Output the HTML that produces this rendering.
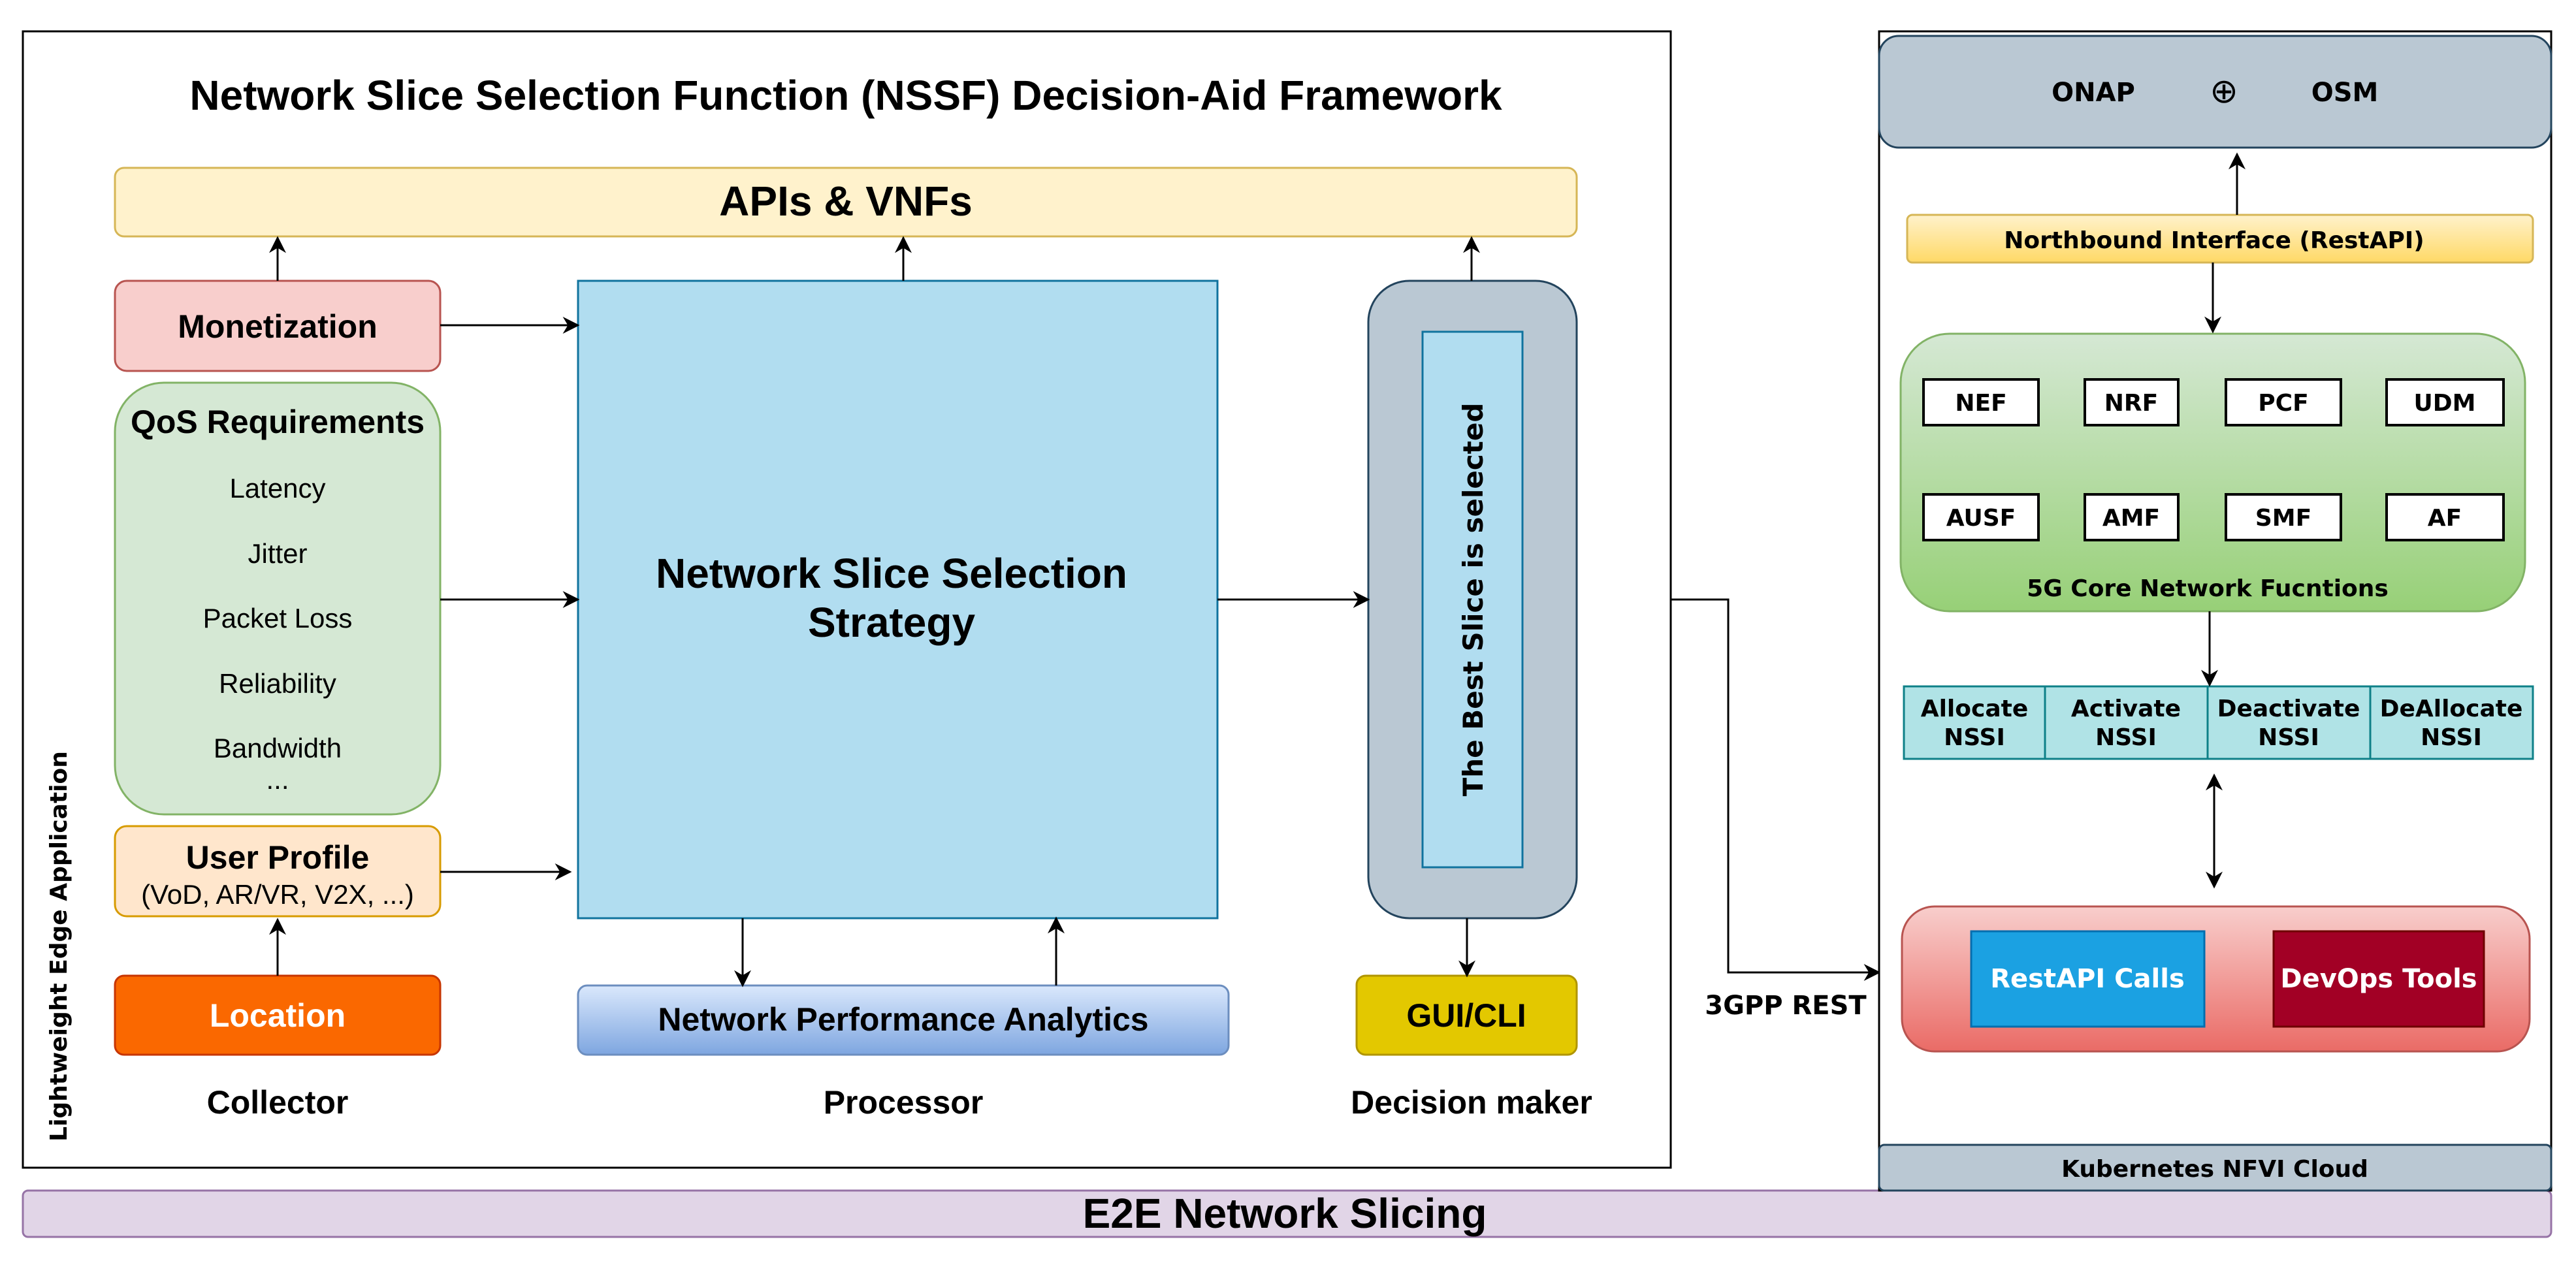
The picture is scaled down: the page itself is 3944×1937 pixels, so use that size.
<!DOCTYPE html>
<html><head><meta charset="utf-8"><style>html,body{margin:0;padding:0;background:#fff}svg{display:block}</style></head>
<body>
<svg width="3944" height="1937" viewBox="0 0 3944 1937" xmlns="http://www.w3.org/2000/svg" font-family="Liberation Sans, sans-serif">
<defs>
<marker id="b" viewBox="0 0 10 10" refX="9" refY="5" markerWidth="26" markerHeight="26" markerUnits="userSpaceOnUse" orient="auto"><path d="M0,0 L10,5 L0,10 L3,5 z" fill="#000"/></marker>
<linearGradient id="npa" x1="0" y1="0" x2="0" y2="1"><stop offset="0" stop-color="#dae8fc"/><stop offset="1" stop-color="#7ea6e0"/></linearGradient>
<linearGradient id="nb" x1="0" y1="0" x2="0" y2="1"><stop offset="0" stop-color="#fff2cc"/><stop offset="1" stop-color="#ffd966"/></linearGradient>
<linearGradient id="g5" x1="0" y1="0" x2="0" y2="1"><stop offset="0" stop-color="#d5e8d4"/><stop offset="1" stop-color="#97d077"/></linearGradient>
<linearGradient id="rd" x1="0" y1="0" x2="0" y2="1"><stop offset="0" stop-color="#f8cecc"/><stop offset="1" stop-color="#ea6b66"/></linearGradient>
</defs>
<rect x="35" y="48" width="2523" height="1740" fill="#fff" stroke="#000" stroke-width="3"/>
<text x="1295" y="168" font-size="64" font-weight="bold" text-anchor="middle">Network Slice Selection Function (NSSF) Decision-Aid Framework</text>
<rect x="176" y="257" width="2238" height="105" rx="14" fill="#fff2cc" stroke="#d6b656" stroke-width="3"/>
<text x="1295" y="330" font-size="64" font-weight="bold" text-anchor="middle">APIs &amp; VNFs</text>
<rect x="176" y="430" width="498" height="138" rx="18" fill="#f8cecc" stroke="#b85450" stroke-width="3"/>
<text x="425" y="517" font-size="50" font-weight="bold" text-anchor="middle">Monetization</text>
<rect x="176" y="586" width="498" height="661" rx="75" fill="#d5e8d4" stroke="#82b366" stroke-width="3"/>
<text x="425" y="663" font-size="50" font-weight="bold" text-anchor="middle">QoS Requirements</text>
<g font-size="42" text-anchor="middle">
<text x="425" y="762">Latency</text><text x="425" y="862">Jitter</text><text x="425" y="961">Packet Loss</text><text x="425" y="1061">Reliability</text><text x="425" y="1160">Bandwidth</text><text x="425" y="1208">...</text>
</g>
<rect x="176" y="1265" width="498" height="138" rx="18" fill="#ffe6cc" stroke="#d79b00" stroke-width="3"/>
<text x="425" y="1330" font-size="50" font-weight="bold" text-anchor="middle">User Profile</text>
<text x="425" y="1384" font-size="42" text-anchor="middle">(VoD, AR/VR, V2X, ...)</text>
<rect x="176" y="1494" width="498" height="121" rx="14" fill="#fa6800" stroke="#c73500" stroke-width="3"/>
<text x="425" y="1572" font-size="50" font-weight="bold" text-anchor="middle" fill="#fff">Location</text>
<text x="425" y="1705" font-size="50" font-weight="bold" text-anchor="middle">Collector</text>
<rect x="885" y="430" width="979" height="976" fill="#b1ddf0" stroke="#10739e" stroke-width="3"/>
<text x="1365" y="900" font-size="64" font-weight="bold" text-anchor="middle">Network Slice Selection</text>
<text x="1365" y="975" font-size="64" font-weight="bold" text-anchor="middle">Strategy</text>
<rect x="885" y="1509" width="996" height="106" rx="14" fill="url(#npa)" stroke="#6c8ebf" stroke-width="3"/>
<text x="1383" y="1578" font-size="50" font-weight="bold" text-anchor="middle">Network Performance Analytics</text>
<text x="1383" y="1705" font-size="50" font-weight="bold" text-anchor="middle">Processor</text>
<rect x="2095" y="430" width="319" height="976" rx="63" fill="#bac8d3" stroke="#23445d" stroke-width="3"/>
<rect x="2178" y="508" width="153" height="820" fill="#b1ddf0" stroke="#10739e" stroke-width="3"/>
<text transform="translate(2270,918) rotate(-90)" font-size="42" font-weight="bold" text-anchor="middle" font-family="DejaVu Sans, sans-serif">The Best Slice is selected</text>
<rect x="2077" y="1494" width="337" height="121" rx="14" fill="#e3c800" stroke="#b09500" stroke-width="3"/>
<text x="2245" y="1572" font-size="50" font-weight="bold" text-anchor="middle">GUI/CLI</text>
<text x="2253" y="1705" font-size="50" font-weight="bold" text-anchor="middle">Decision maker</text>
<text transform="translate(102,1449) rotate(-90)" font-size="36" font-weight="bold" text-anchor="middle" font-family="DejaVu Sans, sans-serif">Lightweight Edge Application</text>
<g stroke="#000" stroke-width="3" fill="none" marker-end="url(#b)">
<line x1="425" y1="430" x2="425" y2="364"/>
<line x1="674" y1="498" x2="885" y2="498"/>
<line x1="674" y1="918" x2="885" y2="918"/>
<line x1="674" y1="1335" x2="873" y2="1335"/>
<line x1="425" y1="1494" x2="425" y2="1408"/>
<line x1="1383" y1="430" x2="1383" y2="364"/>
<line x1="2253" y1="430" x2="2253" y2="364"/>
<line x1="1864" y1="918" x2="2095" y2="918"/>
<line x1="1137" y1="1406" x2="1137" y2="1509"/>
<line x1="1617" y1="1509" x2="1617" y2="1406"/>
<line x1="2246" y1="1406" x2="2246" y2="1494"/>
<polyline points="2558,918 2646,918 2646,1489 2877,1489"/>
</g>
<text x="2734" y="1553" font-size="40" font-weight="bold" text-anchor="middle" font-family="DejaVu Sans, sans-serif">3GPP REST</text>
<rect x="35" y="1823" width="3871" height="71" rx="8" fill="#e1d5e7" stroke="#9673a6" stroke-width="3"/>
<text x="1967" y="1880" font-size="64" font-weight="bold" text-anchor="middle">E2E Network Slicing</text>
<g font-family="DejaVu Sans, sans-serif" font-weight="bold">
<rect x="2877" y="48" width="1029" height="1775" fill="#fff" stroke="#000" stroke-width="3"/>
<rect x="2877" y="55" width="1029" height="171" rx="30" fill="#bac8d3" stroke="#23445d" stroke-width="3"/>
<text x="3205" y="155" font-size="40" text-anchor="middle">ONAP</text>
<text x="3405" y="157" font-size="52" text-anchor="middle" font-weight="normal">⊕</text>
<text x="3590" y="155" font-size="40" text-anchor="middle">OSM</text>
<rect x="2920" y="329" width="958" height="73" rx="8" fill="url(#nb)" stroke="#d6b656" stroke-width="3"/>
<text x="3390" y="380" font-size="36" text-anchor="middle">Northbound Interface (RestAPI)</text>
<rect x="2910" y="511" width="956" height="425" rx="75" fill="url(#g5)" stroke="#82b366" stroke-width="3"/>
<g fill="#fff" stroke="#000" stroke-width="4">
<rect x="2945" y="581" width="176" height="70"/><rect x="3192" y="581" width="143" height="70"/><rect x="3408" y="581" width="176" height="70"/><rect x="3654" y="581" width="179" height="70"/>
<rect x="2945" y="757" width="176" height="70"/><rect x="3192" y="757" width="143" height="70"/><rect x="3408" y="757" width="176" height="70"/><rect x="3654" y="757" width="179" height="70"/>
</g>
<g font-size="36" text-anchor="middle">
<text x="3033" y="629">NEF</text><text x="3263" y="629">NRF</text><text x="3496" y="629">PCF</text><text x="3743" y="629">UDM</text>
<text x="3033" y="805">AUSF</text><text x="3263" y="805">AMF</text><text x="3496" y="805">SMF</text><text x="3743" y="805">AF</text>
</g>
<text x="3380" y="913" font-size="36" text-anchor="middle">5G Core Network Fucntions</text>
<rect x="2915" y="1051" width="963" height="111" fill="#b0e3e6" stroke="#0e8088" stroke-width="3"/>
<g stroke="#0e8088" stroke-width="3"><line x1="3131" y1="1051" x2="3131" y2="1162"/><line x1="3380" y1="1051" x2="3380" y2="1162"/><line x1="3629" y1="1051" x2="3629" y2="1162"/></g>
<g font-size="36" text-anchor="middle">
<text x="3023" y="1097">Allocate</text><text x="3023" y="1141">NSSI</text>
<text x="3255" y="1097">Activate</text><text x="3255" y="1141">NSSI</text>
<text x="3504" y="1097">Deactivate</text><text x="3504" y="1141">NSSI</text>
<text x="3753" y="1097">DeAllocate</text><text x="3753" y="1141">NSSI</text>
</g>
<rect x="2912" y="1388" width="961" height="222" rx="50" fill="url(#rd)" stroke="#b85450" stroke-width="3"/>
<rect x="3018" y="1426" width="357" height="146" fill="#1ba1e2" stroke="#006eaf" stroke-width="3"/>
<text x="3196" y="1512" font-size="40" text-anchor="middle" fill="#fff">RestAPI Calls</text>
<rect x="3481" y="1426" width="322" height="146" fill="#a20025" stroke="#6f0000" stroke-width="3"/>
<text x="3642" y="1512" font-size="40" text-anchor="middle" fill="#fff">DevOps Tools</text>
<rect x="2877" y="1753" width="1029" height="70" rx="8" fill="#bac8d3" stroke="#23445d" stroke-width="3"/>
<text x="3391" y="1802" font-size="36" text-anchor="middle">Kubernetes NFVI Cloud</text>
</g>
<g stroke="#000" stroke-width="3" fill="none">
<line x1="3425" y1="329" x2="3425" y2="236" marker-end="url(#b)"/>
<line x1="3388" y1="402" x2="3388" y2="508" marker-end="url(#b)"/>
<line x1="3383" y1="936" x2="3383" y2="1049" marker-end="url(#b)"/>
<line x1="3390" y1="1275" x2="3390" y2="1187" marker-end="url(#b)"/>
<line x1="3390" y1="1270" x2="3390" y2="1358" marker-end="url(#b)"/>
</g>
</svg>
</body></html>
